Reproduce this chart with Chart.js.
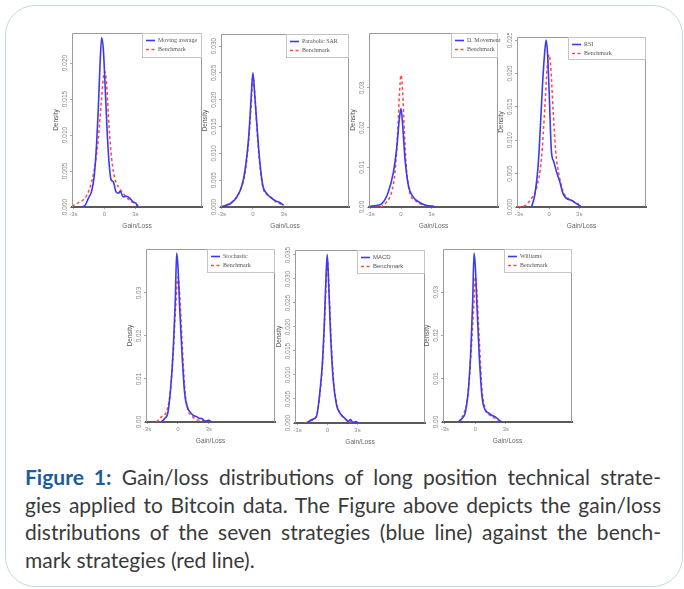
<!DOCTYPE html>
<html><head><meta charset="utf-8">
<script src="https://cdn.jsdelivr.net/npm/chart.js@4.4.1/dist/chart.umd.min.js"></script>
<style>
html,body{margin:0;padding:0;background:#fff;}
body{width:684px;height:589px;position:relative;overflow:hidden;}
#box{position:absolute;left:5px;top:5px;width:676px;height:580px;border:1px solid #c3d7ea;border-radius:30px;}
.pc{position:absolute;}
#cap{position:absolute;left:25px;top:463px;width:636px;font-family:Lato,'Open Sans',sans-serif;font-size:21px;line-height:27.5px;color:#3a3a3a;}
#cap .j{text-align:justify;text-align-last:justify;white-space:nowrap;}
#cap b{color:#1b5d9e;}
</style></head><body>
<div id="box"></div>
<div id="cap">
<div class="j"><b>Figure 1:</b> Gain/loss distributions of long position technical strate-</div>
<div class="j">gies applied to Bitcoin data. The Figure above depicts the gain/loss</div>
<div class="j">distributions of the seven strategies (blue line) against the bench-</div>
<div>mark strategies (red line).</div>
</div>
<script>
// ---- data (gain/loss in units of s, density) ----
const xTickValues = [-3, 0, 3];
const xTickLabels = ['-3s', '0', '3s'];
const benchmarkLabel = 'Benchmark';
const strategyNames = ['Moving average','Parabolic SAR','D. Movement','RSI','Stochastic','MACD','Williams'];

const maGain = [-2.2,-1.87,-1.55,-1.23,-0.97,-0.74,-0.58,-0.42,-0.26,-0.1,0.06,0.29,0.48,0.65,0.87,1.13,1.39,1.52,1.84,2.16,2.48,2.8,3.13,3.2];
const maDensity = [0,0.0002,0.0012,0.0022,0.0044,0.009,0.0137,0.0197,0.0235,0.022,0.0174,0.01,0.0058,0.0038,0.0035,0.0021,0.0019,0.0022,0.0014,0.0015,0.0012,0.0007,0.0004,0];
const maBenchGain = [-3.13,-2.68,-2.2,-1.71,-1.23,-0.9,-0.58,-0.32,-0.1,0.06,0.23,0.45,0.71,1.03,1.52,2.0,2.48,2.97,3.3];
const maBenchDensity = [0.0001,0.0005,0.0008,0.0016,0.0035,0.0058,0.0095,0.0141,0.0178,0.0188,0.0169,0.0113,0.0067,0.0039,0.0025,0.0016,0.0009,0.0005,0.0002];
const maYTicks = [0,0.005,0.010,0.015,0.020];
const maYTickLabels = ['0.000','0.005','0.010','0.015','0.020'];

const sarGain = [-3.09,-2.67,-2.19,-1.54,-1.06,-0.74,-0.42,-0.19,0,0.16,0.39,0.64,0.96,1.35,1.83,2.25,2.64,2.96];
const sarDensity = [0,0.0003,0.0006,0.0019,0.004,0.0071,0.0127,0.0196,0.025,0.0214,0.0152,0.009,0.004,0.0025,0.0016,0.0011,0.0008,0.0003];
const sarBenchGain = [-3.09,-2.51,-1.86,-1.22,-0.74,-0.42,-0.19,0,0.19,0.39,0.64,0.96,1.35,1.83,2.25,2.64,2.96];
const sarBenchDensity = [0,0.0004,0.0012,0.0031,0.0065,0.0121,0.0183,0.0242,0.0208,0.0146,0.0084,0.0037,0.0023,0.0017,0.0009,0.0006,0.0002];
const sarYTicks = [0,0.005,0.010,0.015,0.020,0.025,0.030];
const sarYTickLabels = ['0.000','0.005','0.010','0.015','0.020','0.025','0.030'];

const dmGain = [-3.1,-2.4,-1.9,-1.25,-0.75,-0.43,-0.16,0,0.16,0.39,0.72,1.21,1.87,2.52,3.25];
const dmDensity = [0.0002,0.0004,0.0008,0.0038,0.0088,0.0147,0.0223,0.0248,0.0206,0.0122,0.0055,0.0025,0.0011,0.0004,0.0002];
const dmBenchGain = [-3.1,-2.07,-1.41,-0.92,-0.59,-0.36,-0.16,0,0.16,0.33,0.56,0.89,1.38,1.87,2.52];
const dmBenchDensity = [0,0,0.0013,0.0038,0.0088,0.0172,0.0282,0.0332,0.029,0.0189,0.0088,0.0034,0.0017,0.0008,0.0003];
const dmYTicks = [0,0.01,0.02,0.03];
const dmYTickLabels = ['0.00','0.01','0.02','0.03'];

const rsiGain = [-1.76,-1.43,-1.09,-0.86,-0.66,-0.46,-0.3,-0.17,0,0.23,0.46,0.73,1.06,1.39,1.72,2.22,2.72,3.15];
const rsiDensity = [0,0.0018,0.0063,0.0123,0.0183,0.0228,0.025,0.0233,0.0173,0.0083,0.0068,0.0053,0.0038,0.002,0.0013,0.001,0.0005,0.0001];
const rsiBenchGain = [-3.08,-2.42,-1.76,-1.26,-0.76,-0.43,-0.2,0,0.17,0.4,0.66,0.99,1.39,1.89,2.45,2.98];
const rsiBenchDensity = [0,0.0002,0.0013,0.0028,0.0073,0.0148,0.0208,0.0228,0.0208,0.0143,0.0083,0.0048,0.0023,0.0013,0.0008,0.0004];
const rsiYTicks = [0,0.005,0.010,0.015,0.020,0.025];
const rsiYTickLabels = ['0.000','0.005','0.010','0.015','0.020','0.025'];

const stoGain = [-1.61,-1.29,-0.97,-0.65,-0.42,-0.26,-0.13,0,0.16,0.39,0.65,0.97,1.19,1.45,1.84,2.1,2.35,2.58,3.0,3.23];
const stoDensity = [0,0.0008,0.0023,0.0097,0.019,0.0283,0.0393,0.036,0.0267,0.0159,0.0066,0.0031,0.0023,0.0016,0.0012,0.0008,0.0008,0.0002,0.0004,0];
const stoBenchGain = [-2.1,-1.61,-1.13,-0.81,-0.48,-0.23,0,0.16,0.39,0.65,0.97,1.29,1.77,2.26,2.74];
const stoBenchDensity = [0,0.0012,0.0023,0.0058,0.0151,0.0267,0.0337,0.0298,0.019,0.0081,0.0027,0.0016,0.0005,0.0004,0.0002];
const stoYTicks = [0,0.01,0.02,0.03];
const stoYTickLabels = ['0.00','0.01','0.02','0.03'];

const macdGain = [-2.1,-1.6,-1.1,-0.77,-0.53,-0.33,-0.17,-0.03,0.1,0.3,0.57,0.9,1.23,1.73,2.07,2.3,2.57,2.83,3.07];
const macdDensity = [0,0.0007,0.0014,0.0063,0.0118,0.0201,0.0292,0.0351,0.0299,0.0188,0.009,0.0038,0.0021,0.001,0.0003,0.0007,0.0001,0.0003,0];
const macdBenchGain = [-2.27,-1.6,-1.1,-0.77,-0.5,-0.27,-0.1,0,0.13,0.3,0.57,0.9,1.23,1.73,2.23,2.73];
const macdBenchDensity = [0,0.0005,0.0015,0.0059,0.0125,0.0222,0.0313,0.0337,0.0292,0.0201,0.0097,0.0042,0.0022,0.0009,0.0003,0.0001];
const macdYTicks = [0,0.005,0.010,0.015,0.020,0.025,0.030,0.035];
const macdYTickLabels = ['0.000','0.005','0.010','0.015','0.020','0.025','0.030','0.035'];

const wilGain = [-1.64,-1.31,-0.98,-0.66,-0.43,-0.26,-0.13,0,0.16,0.39,0.66,0.98,1.31,1.64,1.97,2.3,2.62];
const wilDensity = [0,0.0008,0.0023,0.0081,0.0173,0.0281,0.039,0.0358,0.0265,0.015,0.0058,0.0027,0.0021,0.0015,0.0012,0.0005,0];
const wilBenchGain = [-1.64,-1.15,-0.75,-0.43,-0.16,0,0.16,0.39,0.66,0.98,1.48,1.97,2.39];
const wilBenchDensity = [0,0.0019,0.0058,0.0158,0.0265,0.0335,0.0296,0.0188,0.0073,0.0031,0.0015,0.0008,0.0002];
const wilYTicks = [0,0.01,0.02,0.03];
const wilYTickLabels = ['0.00','0.01','0.02','0.03'];

// ---- layout (frame = plot area, in page pixels) ----
const panels = [
  {name:strategyNames[0], sx:maGain, sy:maDensity, bx:maBenchGain, by:maBenchDensity, yt:maYTicks, yl:maYTickLabels,
   left:72, top:33, w:130, h:174, xmin:-3.13, xmax:9.46, ymax:0.02417, legW:60, legH:25, serif:true},
  {name:strategyNames[1], sx:sarGain, sy:sarDensity, bx:sarBenchGain, by:sarBenchDensity, yt:sarYTicks, yl:sarYTickLabels,
   left:221, top:34, w:128, h:173, xmin:-3.08, xmax:9.28, ymax:0.03224, legW:63, legH:24, serif:true},
  {name:strategyNames[2], sx:dmGain, sy:dmDensity, bx:dmBenchGain, by:dmBenchDensity, yt:dmYTicks, yl:dmYTickLabels,
   left:369, top:33, w:129, h:174, xmin:-3.15, xmax:9.54, ymax:0.04383, legW:47, legH:25, serif:true},
  {name:strategyNames[3], sx:rsiGain, sy:rsiDensity, bx:rsiBenchGain, by:rsiBenchDensity, yt:rsiYTicks, yl:rsiYTickLabels,
   left:517, top:37, w:129, h:170, xmin:-3.2, xmax:9.65, ymax:0.02545, legW:78, legH:23, serif:true},
  {name:strategyNames[4], sx:stoGain, sy:stoDensity, bx:stoBenchGain, by:stoBenchDensity, yt:stoYTicks, yl:stoYTickLabels,
   left:146, top:249, w:129, h:173, xmin:-3.1, xmax:9.4, ymax:0.04023, legW:68, legH:24, serif:true},
  {name:strategyNames[5], sx:macdGain, sy:macdDensity, bx:macdBenchGain, by:macdBenchDensity, yt:macdYTicks, yl:macdYTickLabels,
   left:295, top:250, w:130, h:173, xmin:-3.25, xmax:9.75, ymax:0.03604, legW:68, legH:24, serif:false},
  {name:strategyNames[6], sx:wilGain, sy:wilDensity, bx:wilBenchGain, by:wilBenchDensity, yt:wilYTicks, yl:wilYTickLabels,
   left:443, top:249, w:129, h:173, xmin:-3.18, xmax:9.5, ymax:0.03995, legW:68, legH:24, serif:true}
];

const ML = 24, MT = 4, MR = 4, MB = 30;

const framePlugin = {
  id:'frameBox',
  afterDatasetsDraw(chart){
    const a = chart.chartArea, c = chart.ctx;
    c.save();
    c.strokeStyle = '#9a9a9a'; c.lineWidth = 1;
    c.beginPath();
    c.moveTo(a.left+0.5, a.bottom); c.lineTo(a.left+0.5, a.top+0.5);
    c.lineTo(a.right-0.5, a.top+0.5); c.lineTo(a.right-0.5, a.bottom);
    c.stroke();
    c.restore();
  }
};

const rotYLabels = {
  id:'rotY',
  afterDraw(chart, args, o){
    const s = chart.scales.y, c = chart.ctx, a = chart.chartArea;
    c.save();
    c.font = '6.5px "Liberation Sans"'; c.fillStyle = '#8a8a8a';
    c.textAlign = 'center'; c.textBaseline = 'middle';
    o.values.forEach((v,i)=>{
      const y = s.getPixelForValue(v);
      c.save(); c.translate(a.left - 7, y); c.rotate(-Math.PI/2);
      c.fillText(o.labels[i], 0, 0); c.restore();
    });
    c.restore();
  }
};

const legendBox = {
  id:'legendBox',
  afterDraw(chart, args, o){
    const c = chart.ctx, a = chart.chartArea;
    const x0 = a.right - o.width, y0 = a.top;
    c.save();
    c.fillStyle = '#fff'; c.fillRect(x0, y0, o.width, o.height);
    c.strokeStyle = '#c4c4c4'; c.lineWidth = 1;
    c.strokeRect(x0+0.5, y0+0.5, o.width-1, o.height-1);
    chart.data.datasets.forEach((d,i)=>{
      const yy = y0 + 7.5 + i*9;
      c.strokeStyle = d.borderColor; c.lineWidth = d.borderWidth;
      c.setLineDash(d.borderDash || []);
      c.beginPath(); c.moveTo(x0+4, yy); c.lineTo(x0+13, yy); c.stroke();
      c.setLineDash([]);
      c.fillStyle = '#555'; c.font = o.font;
      c.textBaseline = 'middle'; c.textAlign = 'left';
      c.fillText(d.label, x0+16, yy);
    });
    c.restore();
  }
};

panels.forEach(p=>{
  const W = p.w + ML + MR, H = p.h + MT + MB;
  const div = document.createElement('div');
  div.className = 'pc';
  div.style.left = (p.left - ML) + 'px';
  div.style.top = (p.top - MT) + 'px';
  div.style.width = W + 'px'; div.style.height = H + 'px';
  const cv = document.createElement('canvas');
  cv.width = W; cv.height = H;
  div.appendChild(cv);
  document.body.appendChild(div);
  new Chart(cv, {
    type:'line',
    data:{datasets:[
      {label:p.name, data:p.sx.map((x,i)=>({x:x, y:p.sy[i]})), borderColor:'#3a3af2', borderWidth:1.6,
       pointRadius:0, cubicInterpolationMode:'monotone', fill:false},
      {label:benchmarkLabel, data:p.bx.map((x,i)=>({x:x, y:p.by[i]})), borderColor:'#ff4848', borderWidth:1.5,
       borderDash:[3,2.5], pointRadius:0, cubicInterpolationMode:'monotone', fill:false}
    ]},
    options:{
      responsive:false, animation:false, devicePixelRatio:1,
      layout:{padding:{left:0, top:MT, right:MR, bottom:0}},
      plugins:{
        legend:{display:false}, tooltip:{enabled:false},
        rotY:{values:p.yt, labels:p.yl},
        legendBox:{width:p.legW, height:p.legH, font: p.serif ? '6px "Liberation Serif"' : '6px "Liberation Sans"'}
      },
      scales:{
        x:{type:'linear', min:p.xmin, max:p.xmax,
          afterBuildTicks:s=>{ s.ticks = xTickValues.map(v=>({value:v})); },
          afterFit:s=>{ s.height = MB; },
          ticks:{callback:v=>xTickLabels[xTickValues.indexOf(v)], font:{size:6, family:'Liberation Sans'},
                 color:'#8a8a8a', padding:2, maxRotation:0, autoSkip:false},
          grid:{drawOnChartArea:false, drawTicks:true, tickLength:2, color:'#aaa'},
          border:{display:true, color:'#5a5a5a', width:2},
          title:{display:true, text:'Gain/Loss', font:{size:6.5, family:'Liberation Sans'}, color:'#666', padding:{top:0, bottom:7}}
        },
        y:{type:'linear', min:0, max:p.ymax,
          afterBuildTicks:s=>{ s.ticks = p.yt.map(v=>({value:v})); },
          afterFit:s=>{ s.width = ML; },
          ticks:{display:false},
          grid:{drawOnChartArea:false, drawTicks:true, tickLength:2, color:'#aaa'},
          border:{display:false},
          title:{display:true, text:'Density', font:{size:6.5, family:'Liberation Sans'}, color:'#555', padding:{top:4, bottom:0}}
        }
      }
    },
    plugins:[framePlugin, rotYLabels, legendBox]
  });
});
</script>
</body></html>
